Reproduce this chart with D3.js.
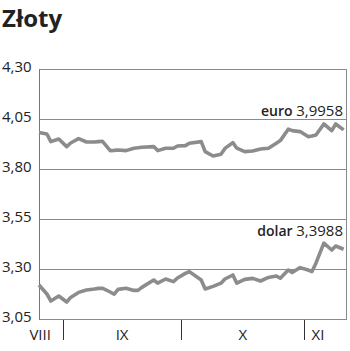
<!DOCTYPE html>
<html>
<head>
<meta charset="utf-8">
<script src="https://cdn.jsdelivr.net/npm/d3@7"></script>
<style>
  body { margin: 0; background: #fff; }
  text { font-family: "Open Sans", sans-serif; }
</style>
</head>
<body>
<div id="chart"></div>
<script>

// ----- data: days counted from 26 Aug 2005 ----- //
var days = [0, 2, 3, 5, 7, 8, 10, 12, 14, 15, 16, 18, 19, 20, 22, 24, 25, 26, 29, 30,
    32, 34, 35, 37, 38, 41, 42, 44, 46, 47, 49, 50, 52, 54, 56, 58, 60, 61, 63, 64,
    66, 68, 69, 70, 72, 74, 75, 77]

var euro = [3.982, 3.975, 3.937, 3.950, 3.912, 3.930, 3.952, 3.935, 3.935, 3.937, 3.939, 3.892, 3.893, 3.895, 3.892, 3.904, 3.906, 3.909, 3.912, 3.892,
    3.904, 3.904, 3.915, 3.917, 3.929, 3.937, 3.887, 3.865, 3.874, 3.903, 3.932, 3.904, 3.887, 3.890, 3.900, 3.904, 3.929, 3.942, 3.999, 3.992,
    3.987, 3.962, 3.965, 3.970, 4.025, 3.992, 4.025, 3.9958]

var dolar = [3.220, 3.175, 3.140, 3.165, 3.135, 3.158, 3.183, 3.195, 3.200, 3.203, 3.204, 3.185, 3.174, 3.198, 3.204, 3.193, 3.193, 3.208, 3.245, 3.229,
    3.250, 3.237, 3.255, 3.278, 3.287, 3.245, 3.200, 3.213, 3.229, 3.250, 3.270, 3.229, 3.248, 3.253, 3.240, 3.258, 3.265, 3.254, 3.295, 3.282,
    3.307, 3.295, 3.287, 3.329, 3.429, 3.395, 3.415, 3.3988]

var yTicks = [3.05, 3.30, 3.55, 3.80, 4.05, 4.30]

var monthStarts = [6, 36, 67]              // 1 IX, 1 X, 1 XI
var monthNames = ["VIII", "IX", "X", "XI"]
var monthLabelDays = [0.3, 21, 51.5, 70.5]

var lastDay = 77.6

// ----- svg ----- //
var svg = d3.select("#chart")
    .append("svg")
    .attr("width", 350)
    .attr("height", 351)

var x = d3.scaleLinear()
    .domain([0, lastDay])
    .range([39, 346])

var y = d3.scaleLinear()
    .domain([3.05, 4.30])
    .range([319, 69])

var fmt = function (v) { return d3.format(".2f")(v).replace(".", ","); }

// title
svg.append("text")
    .attr("x", 2)
    .attr("y", 27)
    .style("font-size", "24px")
    .style("font-weight", "700")
    .style("fill", "#222")
    .text("Złoty")

// gridlines
svg.append("g")
    .selectAll("line")
    .data(yTicks)
    .enter()
    .append("line")
    .attr("x1", x(0))
    .attr("x2", x(lastDay))
    .attr("y1", function (d) { return y(d) + 0.5; })
    .attr("y2", function (d) { return y(d) + 0.5; })
    .attr("stroke", "#8a8a8a")
    .attr("stroke-width", 1)

// frame: left + right
svg.append("line")
    .attr("x1", x(0) + 0.5).attr("x2", x(0) + 0.5)
    .attr("y1", y(4.30)).attr("y2", y(3.05) + 1)
    .attr("stroke", "#777")
svg.append("line")
    .attr("x1", x(lastDay) + 0.5).attr("x2", x(lastDay) + 0.5)
    .attr("y1", y(4.30)).attr("y2", y(3.05) + 1)
    .attr("stroke", "#8a8a8a")

// y labels
svg.append("g")
    .selectAll("text")
    .data(yTicks)
    .enter()
    .append("text")
    .attr("x", 2)
    .attr("y", function (d) { return y(d) + 3; })
    .style("font-size", "15px")
    .style("fill", "#222")
    .text(fmt)

// month separators
svg.append("g")
    .selectAll("line")
    .data(monthStarts)
    .enter()
    .append("line")
    .attr("x1", function (d) { return Math.round(x(d)) + 0.5; })
    .attr("x2", function (d) { return Math.round(x(d)) + 0.5; })
    .attr("y1", 320)
    .attr("y2", 340)
    .attr("stroke", "#333")

svg.append("g")
    .selectAll("text")
    .data(monthNames)
    .enter()
    .append("text")
    .attr("x", function (d, i) { return x(monthLabelDays[i]); })
    .attr("y", 340)
    .attr("text-anchor", "middle")
    .style("font-size", "15px")
    .style("fill", "#222")
    .text(function (d) { return d; })

// lines
var line = d3.line()
    .x(function (d, i) { return x(days[i]); })
    .y(function (d) { return y(d); })

svg.append("g")
    .selectAll("path")
    .data([euro, dolar])
    .enter()
    .append("path")
    .attr("fill", "none")
    .attr("stroke", "#8c8c8c")
    .attr("stroke-width", 3.6)
    .attr("stroke-linejoin", "round")
    .attr("d", line)

// end labels
var endLabels = [
    { name: "euro", value: euro[euro.length - 1], yPos: y(4.05) - 3 },
    { name: "dolar", value: dolar[dolar.length - 1], yPos: y(3.55) + 17 }
]

endLabels.forEach(function (d) {
    var t = svg.append("text")
        .attr("x", 343)
        .attr("text-anchor", "end")
        .attr("y", d.yPos)
        .style("fill", "#222")
    t.append("tspan")
        .style("font-size", "14px")
        .style("font-weight", "600")
        .text(d.name + " ")
    t.append("tspan")
        .style("font-size", "15px")
        .text(d3.format(".4f")(d.value).replace(".", ","))
})

</script>
</body>
</html>
